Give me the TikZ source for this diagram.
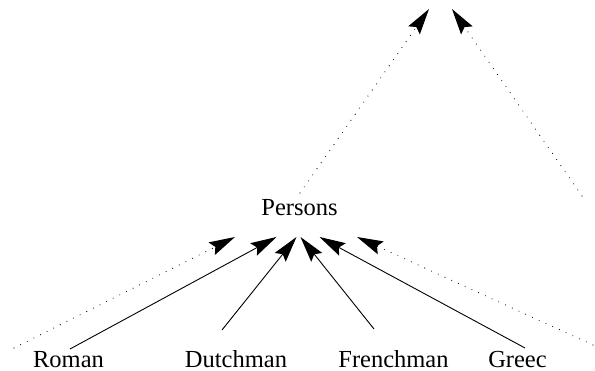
\documentclass[tikz,border=0pt]{standalone}
\usepackage{fontspec}
\setmainfont{Liberation Serif}
\usetikzlibrary{arrows.meta}
\begin{document}
\begin{tikzpicture}[x=1pt,y=-1pt,
  label/.style={inner sep=0pt,anchor=base,text depth=0pt,font=\fontsize{24.5}{28}\selectfont},
  tip/.style={-{Stealth[length=26pt,width=14pt,inset=4pt]}},
  isa/.style={tip,line width=0.9pt},
  weak/.style={tip,line width=1.1pt,line cap=round,dash pattern=on 0pt off 7.4pt}]
\useasboundingbox (0,0) rectangle (595,371);

% class and instance labels
\node[label] (persons)   at (299.5,216) {Persons};
\node[label] (roman)     at (68.5,368)  {Roman};
\node[label] (dutchman)  at (236,368)   {Dutchman};
\node[label] (frenchman) at (393.5,368) {Frenchman};
\node[label] (greec)     at (517.5,368) {Greec};

% arrow ends above the labels
\coordinate (upL) at (429,9);
\coordinate (upR) at (452,9);
\coordinate (pTop) at (300,193);
\coordinate (farR) at (582,196);
\coordinate (inL)  at (235,237);
\coordinate (inRo) at (276.5,237);
\coordinate (inDu) at (296.5,237);
\coordinate (inFr) at (300.5,237);
\coordinate (inGr) at (319.5,237);
\coordinate (inR)  at (357,237);
\coordinate (srcL) at (14,348);
\coordinate (srcR) at (593,345);
\coordinate (roTop) at (70,349);
\coordinate (duTop) at (222,330);
\coordinate (frTop) at (374,329);
\coordinate (grTop) at (525,348);

% upward generalisation (dotted)
\draw[weak] (pTop) -- (upL);
\draw[weak] (farR) -- (upR);

% instances of Persons
\draw[weak] (srcL) -- (inL);
\draw[isa] (roTop) -- (inRo);
\draw[isa] (duTop) -- (inDu);
\draw[isa] (frTop) -- (inFr);
\draw[isa] (grTop) -- (inGr);
\draw[weak] (srcR) -- (inR);
\end{tikzpicture}
\end{document}
